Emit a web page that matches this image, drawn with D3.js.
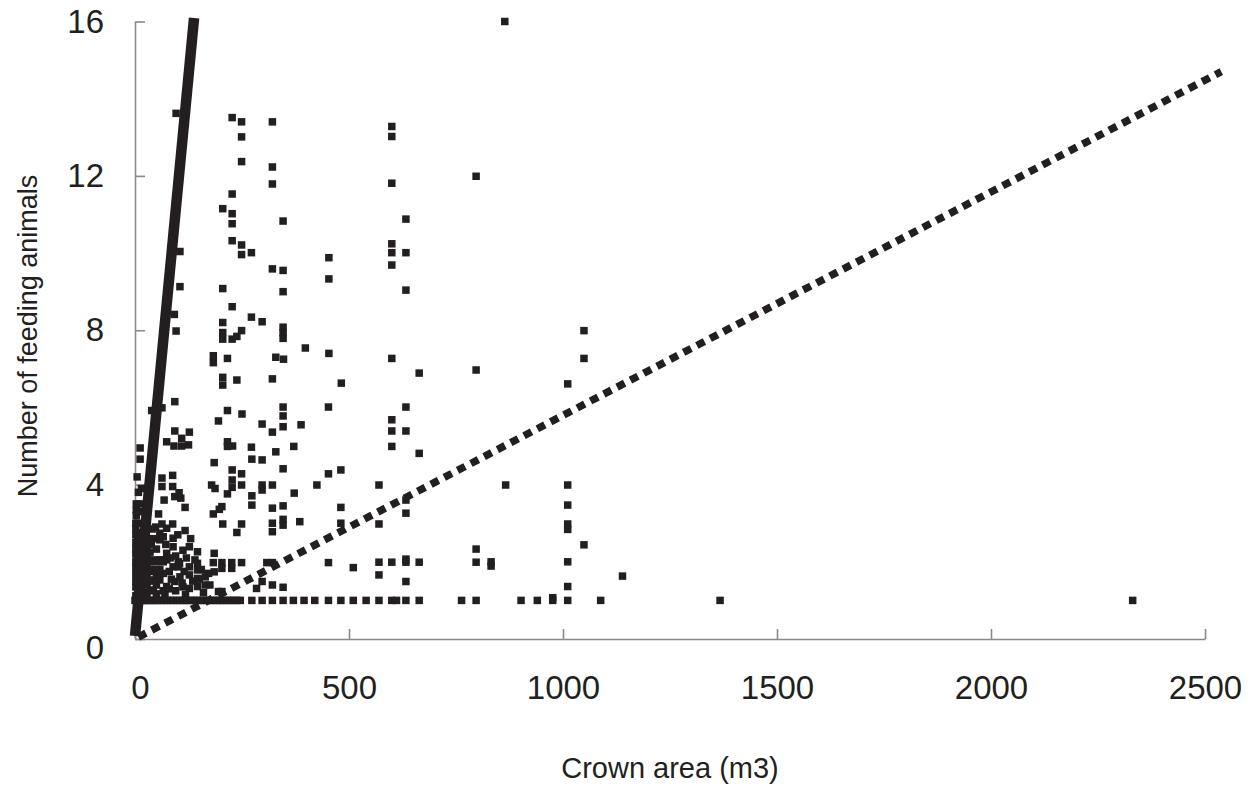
<!DOCTYPE html>
<html>
<head>
<meta charset="utf-8">
<script src="https://cdn.jsdelivr.net/npm/d3@7"></script>
<style>
  body { margin: 0; background: #fff; }
  text { font-family: "Liberation Sans", Arial, Helvetica, sans-serif; fill: #231f20; }
</style>
</head>
<body>
<svg id="chart" width="1254" height="790"></svg>
<script>
// Tick values
const xTicks = [0, 500, 1000, 1500, 2000, 2500];
const yTicks = [0, 4, 8, 12, 16];

// Fitted lines: [crown area, feeding animals] end points
const steepFitX = [0, 138];
const steepFitY = [0.08, 16.09];
const shallowFitX = [8, 2538];
const shallowFitY = [0.05, 14.7];

// Observations: crown area (m3), number of feeding animals
const upperObs = [
  [864,16.0],[96,13.62],[227,13.51],[249,13.40],[321,13.40],[249,13.01],[600,13.28],[600,13.02],
  [249,12.37],[321,12.23],[797,11.99],[321,11.79],[600,11.81],[227,11.53],[205,11.15],[227,11.02],
  [633,10.88],[346,10.83],[227,10.76],[227,10.32],[249,10.21],[600,10.24],[249,9.96],[272,10.01],
  [600,10.01],[633,10.01],[105,10.04],[453,9.88],[600,9.69],[321,9.59],[346,9.55],[453,9.33],
  [205,9.08],[105,9.13],[346,9.00],[633,9.04],[227,8.61],[92,8.41],[272,8.34],[297,8.22],
  [205,8.20],[205,7.94],[205,7.77],[249,7.99],[96,7.98],[227,7.77],[238,7.84],[346,8.08],
  [346,7.94],[346,7.79],[1049,7.99],[398,7.54],[453,7.40],[183,7.34],[183,7.16],[216,7.27],
  [329,7.30],[347,7.25],[600,7.27],[1049,7.27],[797,6.97],[664,6.89],[205,6.78],[205,6.58],
  [238,6.71],[321,6.74],[482,6.63],[1011,6.61]
];

const middleObs = [
  [93,6.15],[39,5.92],[63,5.99],[216,5.92],[250,5.83],[346,6.01],[346,5.78],[346,5.50],
  [452,6.01],[633,6.01],[195,5.65],[297,5.57],[388,5.55],[321,5.36],[600,5.68],[600,5.39],
  [633,5.39],[93,5.39],[109,5.20],[127,5.36],[74,5.11],[91,5.00],[109,5.00],[125,5.03],
  [216,5.11],[216,4.99],[228,5.00],[272,4.97],[371,4.99],[329,4.85],[600,4.99],[664,4.81],
  [273,4.66],[297,4.64],[12,4.95],[12,4.66],[185,4.57],[346,4.41],[227,4.38],[249,4.28],
  [249,3.99],[227,4.12],[227,3.93],[452,4.28],[481,4.38],[63,4.17],[63,3.95],[88,4.24],
  [179,3.99],[187,3.90],[297,3.99],[297,3.86],[321,3.99],[425,3.99],[88,3.95],[103,3.79],
  [93,3.69],[107,3.65],[68,3.60],[273,3.71],[372,3.78],[216,3.76],[570,3.99],[866,3.99],
  [1011,3.99],[633,3.60]
];

const lowerObs = [
  [117,3.41],[273,3.47],[203,3.43],[197,3.36],[183,3.24],[321,3.39],[346,3.45],[481,3.41],
  [1011,3.47],[633,3.26],[55,3.24],[321,3.00],[321,2.78],[346,3.10],[346,2.95],[385,3.04],
  [205,2.98],[249,2.98],[238,2.76],[481,3.00],[570,2.98],[1011,2.98],[1011,2.84],[117,2.81],
  [1049,2.44],[127,2.39],[146,2.26],[185,2.22],[797,2.33],[63,2.98],[88,2.98],[74,2.87],
  [58,2.74],[58,2.57],[66,2.65],[89,2.61],[89,2.39],
  [74,2.22],[62,2.05],[74,2.05],[101,2.00],[101,1.87],[89,1.87],[127,1.87],[146,1.96],
  [146,1.79],[183,1.98],[203,1.98],[203,1.83],[226,1.98],[249,1.98],[185,1.74],[226,1.83],
  [127,1.66],[146,1.57],[164,1.61],[164,1.40],[127,1.31],[146,1.36],[175,1.40],[195,1.23],
  [203,1.23],[93,1.49],[105,1.61],[66,1.70],[58,1.53],[74,1.36],[35,1.53],[43,1.27],
  [308,1.98],[321,1.98],[297,1.49],[321,1.40],[346,1.34],[284,1.31],[452,1.98],[510,1.85],
  [570,1.99],[600,1.99],[633,2.07],[633,1.99],[664,1.99],[570,1.66],[633,1.49],[797,1.99],
  [832,2.00],[832,1.89],[1011,2.00],[1011,1.36],[1139,1.63],[976,1.07]
];

// Trees with a single feeding animal
const singleAnimalArea = [
  0,4,9,15,21,26,33,39,46,53,60,68,75,83,90,98,106,113,121,129,137,144,152,160,168,176,
  184,192,199,207,215,222,230,238,246,273,297,321,346,370,395,420,452,481,510,540,570,
  600,611,633,664,763,797,902,940,976,1011,1088,1367,2331
];

// Small crowns near the origin
const smallCrownObs = [
  [2,1.12],[2,1.35],[2,1.5],[2,1.68],[2,1.85],[2,2.0],[2,2.2],[2,2.33],[2,2.5],[2,2.7],[2,2.86],[2,3.0],[3,3.2],[3,3.33],[3,3.5],
  [6,1.2],[6,1.45],[6,1.6],[6,1.8],[6,2.0],[6,2.15],[6,2.4],[6,2.6],[6,2.75],[6,3.0],
  [11,1.25],[11,1.4],[11,1.67],[11,1.9],[11,2.0],[11,2.25],[11,2.5],[11,3.5],
  [16,1.1],[16,1.33],[16,1.5],[16,1.75],[16,2.0],[16,2.33],[16,2.67],
  [22,1.2],[22,1.5],[22,1.8],[22,2.0],[22,2.2],[22,2.4],
  [28,1.14],[28,1.4],[28,1.6],[28,1.86],[28,2.1],[28,2.3],
  [35,1.25],[35,1.75],[35,2.0],[35,2.25],
  [43,1.5],[43,1.8],[43,2.05],
  [50,1.17],[50,1.4],[50,1.67],[50,2.0],[50,2.33],
  [58,1.8],[58,2.05],
  [66,1.25],[66,2.0],
  [70,1.15],[80,1.3],[85,1.55],[95,1.25],[110,1.45],[115,1.75],[120,2.1],[135,1.5],
  [140,2.05],[155,1.8],[160,1.2],[112,2.3],[95,2.15],[80,1.75],[72,2.45],[100,2.7],
  [130,2.6],[45,2.6],[40,2.85],[30,2.6],[25,3.0],[20,3.3],[8,3.8],[5,4.2],[15,3.9],
  [38,2.45],[48,2.9],[82,2.1],[104,1.95],[118,1.15],[150,1.55],[172,1.7],[112,1.35]
];

const ink = '#231f20';
const axisGrey = '#8a8a8a';

const svg = d3.select('#chart');
const x = d3.scaleLinear().domain([0, 2500]).range([135, 1205]);
const y = d3.scaleLinear().domain([0, 16]).range([639, 21.5]);

// Axes with inward ticks
const gx = svg.append('g')
  .attr('transform', `translate(0,${y(0)})`)
  .call(d3.axisBottom(x).tickValues(xTicks).tickFormat(d3.format('d'))
    .tickSizeInner(-10).tickSizeOuter(0).tickPadding(37));
const gy = svg.append('g')
  .attr('transform', `translate(${x(0)},0)`)
  .call(d3.axisLeft(y).tickValues(yTicks).tickFormat(d3.format('d'))
    .tickSizeInner(-10).tickSizeOuter(0).tickPadding(31));

[gx, gy].forEach(g => {
  g.select('.domain').attr('stroke', axisGrey).attr('stroke-width', 1.6);
  g.selectAll('.tick line').attr('stroke', axisGrey).attr('stroke-width', 1.6);
  g.selectAll('.tick text').attr('fill', ink).attr('font-size', 33)
    .attr('font-family', '"Liberation Sans", Arial, sans-serif');
});
// the zero labels sit a little off their ticks
gy.selectAll('.tick').filter(d => d === 0).select('text').attr('dy', '0.6em');
gx.selectAll('.tick').filter(d => d === 0).select('text').attr('dx', '0.15em');

// Observation markers
const allObs = upperObs.concat(middleObs, lowerObs, smallCrownObs,
  singleAnimalArea.map(a => [a, 1]));
const size = 7.5;
svg.append('g').selectAll('rect').data(allObs).join('rect')
  .attr('x', d => x(d[0]) - size / 2)
  .attr('y', d => y(d[1]) - size / 2)
  .attr('width', size).attr('height', size)
  .attr('fill', ink);

// Fitted lines
const line = d3.line().x(d => x(d[0])).y(d => y(d[1]));
svg.append('path')
  .datum(steepFitX.map((v, i) => [v, steepFitY[i]]))
  .attr('d', line).attr('fill', 'none')
  .attr('stroke', ink).attr('stroke-width', 10.5);
svg.append('path')
  .datum(shallowFitX.map((v, i) => [v, shallowFitY[i]]))
  .attr('d', line).attr('fill', 'none')
  .attr('stroke', ink).attr('stroke-width', 7.5)
  .attr('stroke-dasharray', '8.5,6.5');

// Axis titles
svg.append('text')
  .attr('x', 670).attr('y', 778)
  .attr('text-anchor', 'middle').attr('font-size', 29)
  .text('Crown area (m3)');
svg.append('text')
  .attr('transform', 'translate(37,336) rotate(-90)')
  .attr('text-anchor', 'middle').attr('font-size', 27)
  .text('Number of feeding animals');
</script>
</body>
</html>
